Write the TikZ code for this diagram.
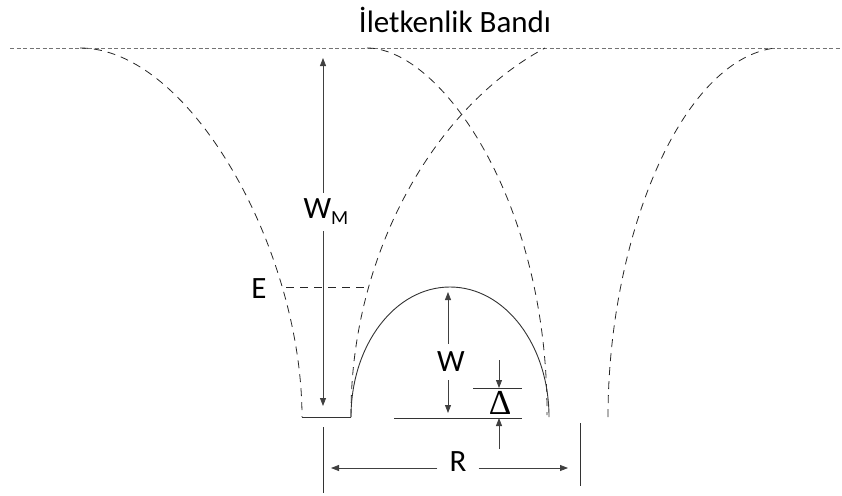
\documentclass[tikz,border=0pt]{standalone}
\usepackage{fontspec}
\setmainfont{Carlito}
\newfontfamily\deltafont{Liberation Serif}
\usetikzlibrary{arrows.meta}

\begin{document}
\begin{tikzpicture}[x=1pt,y=-1pt,
    well/.style={draw=black!85,line width=0.8pt,dash pattern=on 8pt off 6pt},
    band/.style={draw=black!55,line width=0.9pt,dash pattern=on 4pt off 2.5pt},
    solidln/.style={draw=black!80,line width=0.9pt},
    dim/.style={draw=black!75,line width=0.8pt,-{Triangle[length=8pt,width=6pt]}},
    lbl/.style={font=\fontsize{31}{36}\selectfont,inner sep=1pt}
]
\useasboundingbox (0,0) rectangle (842,495);

\node[lbl,font=\fontsize{31}{36}\selectfont] (title) at (455,20) {İletkenlik Bandı};

% band edge and the wells
\coordinate (bandL) at (10,48);
\coordinate (bandR) at (842,48);
\draw[band] (bandL) -- (bandR);

\coordinate (a0) at (80,48);   \coordinate (a1) at (302,417);
\coordinate (c0) at (351,417); \coordinate (c1) at (545,48);
\coordinate (b0) at (367,48);  \coordinate (b1) at (547,415);
\coordinate (d0) at (608,417); \coordinate (d1) at (775,48);
\draw[well] (a0) .. controls (190,48) and (302,250) .. (a1);
\draw[well] (c0) .. controls (350,260) and (430,110) .. (c1);
\draw[well] (b0) .. controls (440,48) and (548,200) .. (b1);
\draw[well] (d0) .. controls (608,240) and (680,60) .. (d1);
\draw[solidln] (a1) -- (c0);

% barrier between the wells
\coordinate (archtop) at (450,287);
\coordinate (archR) at (549,417);
\draw[solidln] (c0) .. controls (351,345) and (395,287) .. (archtop)
                    .. controls (505,287) and (549,345) .. (archR);

% energy level
\node[lbl] (E) at (259,289) {E};
\coordinate (eL) at (286,287);
\coordinate (eR) at (366,287);
\draw[well] (eL) -- (eR);

% depth W_M
\node[lbl,inner ysep=6pt] (wm) at (326,212) {W\raisebox{-6pt}{\fontsize{20}{20}\selectfont M}};
\coordinate (wmtop) at (323,58);
\coordinate (wmbot) at (323,406);
\draw[dim] (wm.north -| wmtop) -- (wmtop);
\draw[dim] (wm.south -| wmbot) -- (wmbot);

% barrier height W
\node[lbl,inner ysep=8pt] (w) at (451,362) {W};
\coordinate (wtop) at (448,292);
\coordinate (wbot) at (448,413);
\draw[dim] (w.north -| wtop) -- (wtop);
\draw[dim] (w.south -| wbot) -- (wbot);

% Delta
\node[lbl,font=\deltafont\fontsize{35}{40}\selectfont] (delta) at (500,403) {Δ};
\coordinate (dUL) at (473,388); \coordinate (dUR) at (522,388);
\coordinate (dLL) at (394,418); \coordinate (dLR) at (522,418);
\draw[solidln] (dUL) -- (dUR);
\draw[solidln] (dLL) -- (dLR);
\coordinate (dtop) at (499,360);
\coordinate (dbot) at (499,449);
\draw[dim] (dtop) -- (dtop |- dUL);
\draw[dim] (dbot) -- (dbot |- dLL);

% width R
\coordinate (rL0) at (323,427); \coordinate (rL1) at (323,493);
\coordinate (rR0) at (580,423); \coordinate (rR1) at (580,486);
\draw[solidln] (rL0) -- (rL1);
\draw[solidln] (rR0) -- (rR1);
\node[lbl,inner xsep=12pt] (r) at (458,462) {R};
\coordinate (rtipL) at (331,468);
\coordinate (rtipR) at (568,468);
\draw[dim] (r.west |- rtipL) -- (rtipL);
\draw[dim] (r.east |- rtipR) -- (rtipR);
\end{tikzpicture}
\end{document}
